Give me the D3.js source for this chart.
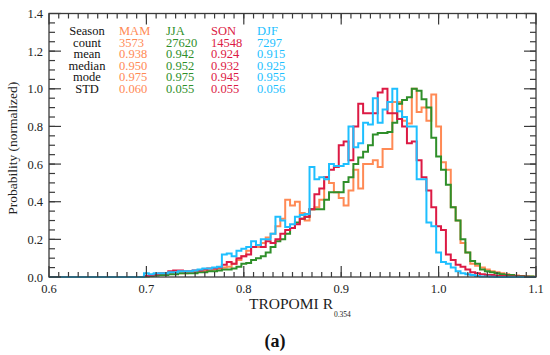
<!DOCTYPE html>
<html>
<head>
<meta charset="utf-8">
<script src="https://cdn.jsdelivr.net/npm/d3@7"></script>
<style>
  body { margin: 0; background: #fff; }
  svg { display: block; font-family: 'Liberation Serif', 'Times New Roman', serif; }
</style>
</head>
<body>
<div id="chart-container"></div>
<script>
// bin centres run 0.700, 0.705, ... 1.095 (width 0.005)
const binStart = 0.7
const binWidth = 0.005

const seasons = ['MAM', 'JJA', 'SON', 'DJF']
const seasonColors = ['#ff8a55', '#2f8f2a', '#dc1a44', '#1ebfff']

const statNames = ['count', 'mean', 'median', 'mode', 'STD']
const statValues = [
  ['3573', '0.938', '0.950', '0.975', '0.060'],
  ['27620', '0.942', '0.952', '0.975', '0.055'],
  ['14548', '0.924', '0.932', '0.945', '0.055'],
  ['7297', '0.915', '0.925', '0.955', '0.056'],
]

const mam = [
  0.005, 0.01, 0.01, 0.015, 0.02, 0.02, 0.025, 0.02, 0.02, 0.025,
  0.025, 0.03, 0.03, 0.035, 0.04, 0.045, 0.05, 0.055, 0.07, 0.09,
  0.11, 0.14, 0.16, 0.16, 0.18, 0.21, 0.23, 0.27, 0.31, 0.41,
  0.38, 0.4, 0.34, 0.3, 0.36, 0.37, 0.41, 0.53, 0.5, 0.45,
  0.42, 0.38, 0.46, 0.57, 0.47, 0.6, 0.6, 0.62, 0.585, 0.68,
  0.68, 0.93, 0.93, 0.83, 0.815, 1.0, 0.877, 0.9, 0.83, 0.97,
  0.8, 0.61, 0.57, 0.37, 0.3, 0.18, 0.13, 0.07, 0.06, 0.05,
  0.04, 0.03, 0.025, 0.02, 0.015, 0.01, 0.008, 0.005, 0.003, 0.002,
]
const jja = [
  0.003, 0.005, 0.008, 0.01, 0.01, 0.015, 0.015, 0.02, 0.02, 0.02,
  0.02, 0.025, 0.025, 0.03, 0.03, 0.035, 0.04, 0.04, 0.045, 0.055,
  0.07, 0.075, 0.09, 0.1, 0.11, 0.13, 0.16, 0.19, 0.2, 0.23,
  0.26, 0.29, 0.31, 0.32, 0.36, 0.36, 0.36, 0.41, 0.45, 0.45,
  0.45, 0.505, 0.53, 0.6, 0.635, 0.665, 0.7, 0.757, 0.765, 0.765,
  0.77, 0.82, 0.92, 0.94, 0.955, 1.0, 0.99, 0.945, 0.9, 0.74,
  0.64, 0.57, 0.49, 0.37, 0.3, 0.2, 0.13, 0.085, 0.07, 0.04,
  0.03, 0.025, 0.02, 0.015, 0.01, 0.01, 0.005, 0.005, 0.003, 0.002,
]
const son = [
  0.005, 0.01, 0.015, 0.02, 0.02, 0.03, 0.035, 0.035, 0.03, 0.03,
  0.035, 0.035, 0.04, 0.045, 0.045, 0.05, 0.065, 0.08, 0.07, 0.1,
  0.11, 0.12, 0.16, 0.17, 0.16, 0.19, 0.18, 0.2, 0.23, 0.25,
  0.26, 0.28, 0.31, 0.32, 0.36, 0.44, 0.47, 0.53, 0.57, 0.585,
  0.7, 0.72, 0.62, 0.8, 0.92, 0.87, 0.87, 0.87, 0.98, 1.0,
  0.87, 0.87, 0.84, 0.8, 0.71, 0.72, 0.62, 0.53, 0.46, 0.37,
  0.27, 0.25, 0.12, 0.09, 0.065, 0.055, 0.04, 0.025, 0.02, 0.015,
  0.01, 0.01, 0.005, 0.005, 0.003, 0.003, 0.002, 0.002, 0.001, 0,
]
const djf = [
  0.02, 0.015, 0.02, 0.02, 0.02, 0.025, 0.025, 0.03, 0.03, 0.03,
  0.035, 0.04, 0.045, 0.045, 0.05, 0.055, 0.12, 0.125, 0.11, 0.14,
  0.15, 0.16, 0.19, 0.17, 0.2, 0.2, 0.23, 0.32, 0.3, 0.265,
  0.28, 0.32, 0.33, 0.335, 0.585, 0.52, 0.53, 0.52, 0.6, 0.59,
  0.59, 0.6, 0.8, 0.69, 0.71, 0.82, 0.81, 0.95, 0.82, 0.89,
  0.93, 1.0, 0.88, 0.85, 0.8, 0.8, 0.52, 0.52, 0.29, 0.27,
  0.13, 0.08, 0.07, 0.05, 0.03, 0.02, 0.015, 0.01, 0.005, 0.003,
  0.002, 0.001, 0, 0, 0, 0, 0, 0, 0, 0,
]
const seriesValues = [mam, jja, son, djf]

const xTicks = [0.6, 0.7, 0.8, 0.9, 1.0, 1.1]
const yTicks = [0, 0.2, 0.4, 0.6, 0.8, 1.0, 1.2, 1.4]

const width = 550
const height = 355
const plotLeft = 49
const plotRight = 536
const plotTop = 13.5
const plotBottom = 277
const axisColor = '#3a3a3a'

const svg = d3
  .select('#chart-container')
  .append('svg')
  .attr('width', width)
  .attr('height', height)

const x = d3.scaleLinear().domain([0.6, 1.1]).range([plotLeft, plotRight])
const y = d3.scaleLinear().domain([0, 1.4]).range([plotBottom, plotTop])

// histogram step lines
const line = d3
  .line()
  .x(d => x(d[0]))
  .y(d => y(d[1]))
  .curve(d3.curveStepAfter)

const stepPoints = values => {
  const pts = [[0.6, 0]]
  values.forEach((v, i) => {
    pts.push([binStart + i * binWidth - binWidth / 2, v])
  })
  pts.push([binStart + values.length * binWidth - binWidth / 2, 0])
  pts.push([1.1, 0])
  return pts
}

svg
  .append('g')
  .selectAll('path')
  .data(seriesValues)
  .join('path')
  .attr('d', d => line(stepPoints(d)))
  .attr('fill', 'none')
  .attr('stroke', (d, i) => seasonColors[i])
  .attr('stroke-width', 2)

// frame + ticks
const axes = svg.append('g')

axes
  .append('rect')
  .attr('x', plotLeft)
  .attr('y', plotTop)
  .attr('width', plotRight - plotLeft)
  .attr('height', plotBottom - plotTop)
  .attr('fill', 'none')
  .attr('stroke', axisColor)
  .attr('stroke-width', 1.3)

const xMinor = d3.range(61, 110).map(d => d / 100)
const yMinor = d3.range(1, 28).map(d => d / 20)

const tickLines = (data, fn) =>
  axes
    .append('g')
    .selectAll('line')
    .data(data)
    .join('line')
    .each(function (d) {
      const [x1, y1, x2, y2] = fn(d)
      d3.select(this)
        .attr('x1', x1)
        .attr('y1', y1)
        .attr('x2', x2)
        .attr('y2', y2)
    })
    .attr('stroke', axisColor)
    .attr('stroke-width', 1.2)

tickLines(xMinor, d => [x(d), plotBottom, x(d), plotBottom - 5])
tickLines(xMinor, d => [x(d), plotTop, x(d), plotTop + 5])
tickLines(xTicks, d => [x(d), plotBottom, x(d), plotBottom - 11])
tickLines(xTicks, d => [x(d), plotTop, x(d), plotTop + 11])
tickLines(yMinor, d => [plotLeft, y(d), plotLeft + 6, y(d)])
tickLines(yMinor, d => [plotRight, y(d), plotRight - 6, y(d)])
tickLines(yTicks, d => [plotLeft, y(d), plotLeft + 12, y(d)])
tickLines(yTicks, d => [plotRight, y(d), plotRight - 12, y(d)])

// tick labels
axes
  .append('g')
  .selectAll('text')
  .data(xTicks)
  .join('text')
  .attr('x', d => x(d))
  .attr('y', plotBottom + 16)
  .attr('text-anchor', 'middle')
  .attr('font-size', 12.5)
  .attr('fill', '#222')
  .text(d3.format('.1f'))

axes
  .append('g')
  .selectAll('text')
  .data(yTicks)
  .join('text')
  .attr('x', plotLeft - 6)
  .attr('y', d => y(d) + 4.5)
  .attr('text-anchor', 'end')
  .attr('font-size', 12.5)
  .attr('fill', '#222')
  .text(d3.format('.1f'))

// axis titles
const xTitle = svg
  .append('text')
  .attr('x', 249)
  .attr('y', 309)
  .attr('font-size', 15.5)
  .attr('fill', '#222')
xTitle.append('tspan').text('TROPOMI R')
xTitle
  .append('tspan')
  .attr('dx', 1)
  .attr('dy', 8)
  .attr('font-size', 7.5)
  .text('0.354')

svg
  .append('text')
  .attr('transform', `translate(17, ${(plotTop + plotBottom) / 2 + 3}) rotate(-90)`)
  .attr('text-anchor', 'middle')
  .attr('font-size', 13.5)
  .attr('fill', '#222')
  .text('Probability (normalized)')

svg
  .append('text')
  .attr('x', 275)
  .attr('y', 347)
  .attr('text-anchor', 'middle')
  .attr('font-size', 18)
  .attr('font-weight', 'bold')
  .attr('fill', '#111')
  .text('(a)')

// statistics table, one text block per column
const rowStep = 11.5
const firstRowY = 35
const table = svg.append('g').attr('font-size', 12.5)

const column = (lines, xPos, color, anchor) => {
  table
    .append('text')
    .attr('x', xPos)
    .attr('y', firstRowY)
    .attr('fill', color)
    .attr('text-anchor', anchor)
    .selectAll('tspan')
    .data(lines)
    .join('tspan')
    .attr('x', xPos)
    .attr('dy', (d, i) => (i === 0 ? 0 : rowStep))
    .text(d => d)
}

column(['Season', ...statNames], 87, '#111', 'middle')
const colX = [119, 166, 211, 257]
seasons.forEach((s, i) => {
  column([s, ...statValues[i]], colX[i], seasonColors[i], 'start')
})
</script>
</body>
</html>
